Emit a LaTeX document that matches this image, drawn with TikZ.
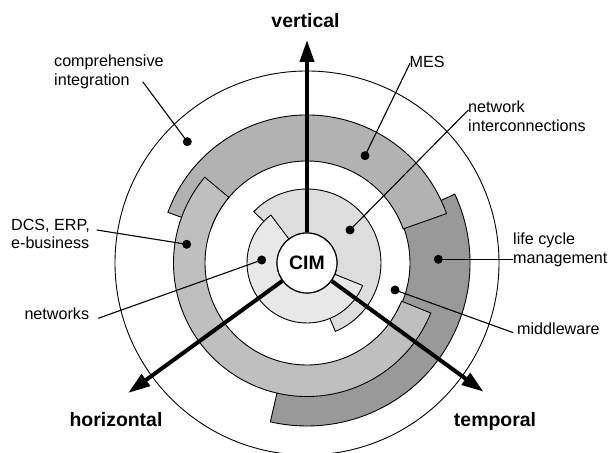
\documentclass[tikz,border=0pt]{standalone}
\usepackage{fontspec}
\setmainfont{Liberation Sans}
\usetikzlibrary{arrows.meta}

\definecolor{lifegray}{gray}{0.60}
\definecolor{mesgray}{gray}{0.70}
\definecolor{dcsgray}{gray}{0.75}
\definecolor{netigray}{gray}{0.865}
\definecolor{netgray}{gray}{0.91}

% #1 colour, #2 inner radius, #3 outer radius, #4 start angle, #5 end angle
\newcommand{\ringpiece}[5]{%
  \filldraw[ring,fill=#1] (#4:#2) arc[start angle=#4,end angle=#5,radius=#2]
    -- (#5:#3) arc[start angle=#5,end angle=#4,radius=#3] -- cycle;}

\begin{document}
\begin{tikzpicture}[x=1bp,y=1bp,
  ring/.style={draw,line width=0.9bp},
  dot/.style={circle,fill,inner sep=0pt,minimum size=9bp},
  lbl/.style={inner sep=0pt,align=left,font=\fontsize{16.2}{18.7}\selectfont},
  axis/.style={line width=4bp,-{Triangle[length=22bp,width=14bp]}},
  axlbl/.style={inner sep=0pt,font=\fontsize{19.5}{22}\selectfont\bfseries},
  pointer/.style={line width=1.1bp}]
\useasboundingbox (-307,-190) rectangle (303,263);

\draw[ring] (0,0) circle (192);
% rings, lowest first
\ringpiece{lifegray}{103}{163}{-103}{25}
\ringpiece{mesgray}{102}{148}{19.5}{160}
\ringpiece{dcsgray}{102}{133.5}{140}{338}
\ringpiece{netigray}{30}{74}{-67.5}{136}
\ringpiece{netgray}{30}{60}{127}{338}

\node[circle,draw,fill=white,line width=1.2bp,minimum size=60bp,inner sep=0pt,
  font=\fontsize{19.5}{22}\selectfont\bfseries] (cim) at (0,0) {CIM};

% axes
\coordinate (vtip) at (90:223);
\coordinate (htip) at (216:221);
\coordinate (ttip) at (-36.1:218.5);
\draw[axis] (cim) -- (vtip);
\draw[axis] (cim) -- (htip);
\draw[axis] (cim) -- (ttip);
\node[axlbl] (vlbl) at (-1.5,242) {vertical};
\node[axlbl] (hlbl) at (-191,-157) {horizontal};
\node[axlbl] (tlbl) at (188,-158) {temporal};

% pointers
\node[dot] (ciDot) at (-119.7,121.3) {};
\node[dot] (mesDot) at (58,107.3) {};
\node[dot] (niDot) at (43,33) {};
\node[dot] (lcDot) at (131.3,3.7) {};
\node[dot] (mwDot) at (88,-27) {};
\node[dot] (dcsDot) at (-120.3,18.7) {};
\node[dot] (nwDot) at (-45.3,3) {};

\coordinate (ciEnd) at (-164.3,181.3);
\coordinate (mesEnd) at (103,199.7);
\coordinate (niEnd) at (161.3,153);
\coordinate (lcEnd) at (206.3,3.7);
\coordinate (mwEnd) at (206.3,-69.7);
\coordinate (dcsEnd) at (-210.3,33);
\coordinate (nwEnd) at (-208.7,-55.3);

\draw[pointer] (ciDot.center) -- (ciEnd);
\draw[pointer] (mesDot.center) -- (mesEnd);
\draw[pointer] (niDot.center) -- (niEnd);
\draw[pointer] (lcDot.center) -- (lcEnd);
\draw[pointer] (mwDot.center) -- (mwEnd);
\draw[pointer] (dcsDot.center) -- (dcsEnd);
\draw[pointer] (nwDot.center) -- (nwEnd);

\node[lbl,anchor=west] (ciLbl) at (-253,191.3) {comprehensive\\integration};
\node[lbl,anchor=west] (mesLbl) at (102.5,201) {MES};
\node[lbl,anchor=west] (niLbl) at (161,146.7) {network\\interconnections};
\node[lbl,anchor=west] (lcLbl) at (206,13.3) {life cycle\\management};
\node[lbl,anchor=west] (mwLbl) at (210,-66) {middleware};
\node[lbl,anchor=east,align=left] (dcsLbl) at (-217,29) {DCS, ERP,\\e-business};
\node[lbl,anchor=east] (nwLbl) at (-217.7,-50.3) {networks};
\end{tikzpicture}
\end{document}
